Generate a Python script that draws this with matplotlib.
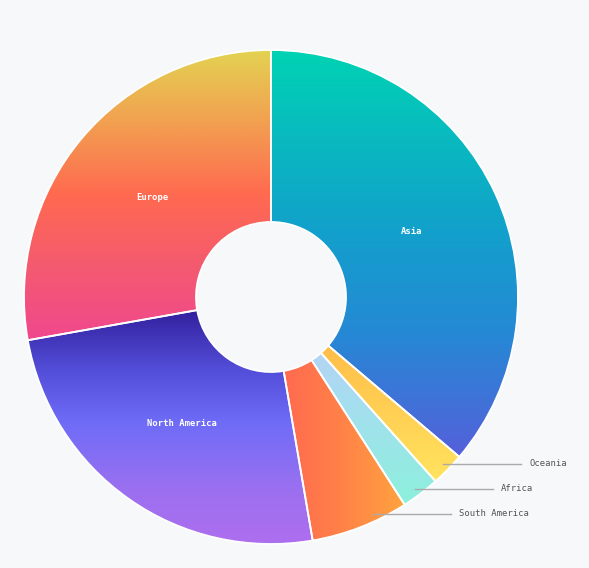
import matplotlib.pyplot as plt
import numpy as np
from matplotlib.colors import LinearSegmentedColormap

# data (clockwise from 12 o'clock)
regions = ["Asia", "Oceania", "Africa", "South America", "North America", "Europe"]
shares = [36.2, 2.2, 2.5, 6.4, 24.9, 27.8]
inside_labels = ["Asia", "North America", "Europe"]

# gradient stops per slice, top->bottom ("v") or left->right ("h")
gradients = {
    "Asia": ("v", [(0, "#00d2b3"), (0.45, "#12a0cc"), (0.7, "#2688d5"), (1, "#5560da")]),
    "Oceania": ("v", [(0, "#ffb042"), (1, "#ffe35e")]),
    "Africa": ("v", [(0, "#c6c8f8"), (0.5, "#a6def0"), (1, "#8cf0dc")]),
    "South America": ("h", [(0, "#ff6552"), (0.5, "#ff8048"), (1, "#ffa33f")]),
    "North America": ("v", [(0, "#2a1690"), (0.3, "#5550dc"), (0.5, "#6f6cf7"),
                            (0.75, "#9a70f0"), (1, "#b06eee")]),
    "Europe": ("v", [(0, "#e3d352"), (0.25, "#f2a050"), (0.5, "#ff6a50"),
                     (0.75, "#f45a70"), (1, "#f0488e")]),
}

bg = "#f7f8fa"
W, H = 589, 568
cx, cy = 271, 271
R, r_in = 247, 75

fig = plt.figure(figsize=(W / 100, H / 100), dpi=100, facecolor=bg)
ax = fig.add_axes([0, 0, 1, 1])
ax.set_facecolor(bg)

wedges, _ = ax.pie(shares, startangle=90, counterclock=False, radius=R,
                   center=(cx, cy), frame=True,
                   wedgeprops=dict(width=R - r_in, edgecolor="white",
                                   linewidth=1.3, facecolor="none", zorder=3))

for name, w in zip(regions, wedges):
    verts = w.get_patch_transform().transform(w.get_path().vertices)
    x0, y0 = verts.min(axis=0)
    x1, y1 = verts.max(axis=0)
    direction, stops = gradients[name]
    cmap = LinearSegmentedColormap.from_list(name, stops)
    g = np.linspace(0, 1, 256)
    if direction == "v":
        im = ax.imshow(g[:, None], cmap=cmap, extent=(x0, x1, y0, y1),
                       origin="upper", aspect="auto", interpolation="bilinear", zorder=2)
    else:
        im = ax.imshow(g[None, :], cmap=cmap, extent=(x0, x1, y0, y1),
                       origin="lower", aspect="auto", interpolation="bilinear", zorder=2)
    im.set_clip_path(w)

# labels
total = sum(shares)
cum = np.cumsum([0] + shares)
outside = []
for i, name in enumerate(regions):
    mid = (cum[i] + cum[i + 1]) / 2 / total * 2 * np.pi
    if name in inside_labels:
        rr = 155
        ax.text(cx + rr * np.sin(mid), cy + rr * np.cos(mid), name,
                color="white", fontsize=6.4, fontweight="bold",
                family="DejaVu Sans Mono", ha="center", va="center", zorder=5)
    else:
        outside.append((name, cy + 0.96 * R * np.cos(mid)))

# outside labels overlap -> stack them 25 px apart around their mean height
ys = np.array([y for _, y in outside])
if np.any(np.abs(np.diff(ys)) < 25):
    ys = ys.mean() - 25 * (np.arange(len(ys)) - (len(ys) - 1) / 2)
rr = 0.97 * R
for (name, _), sy in zip(outside, ys):
    sx = cx + np.sqrt(rr ** 2 - (sy - cy) ** 2)
    ex = sx + 78
    ax.plot([sx, ex], [sy, sy], color="#aaaaaa", lw=1, zorder=4)
    ax.text(ex + 8, sy, name, color="#555555", fontsize=6.4,
            family="DejaVu Sans Mono", ha="left", va="center", zorder=5)

ax.set_xlim(0, W)
ax.set_ylim(0, H)
ax.set_aspect("auto")
ax.axis("off")

fig.savefig("out.png", dpi=100, facecolor=bg)
